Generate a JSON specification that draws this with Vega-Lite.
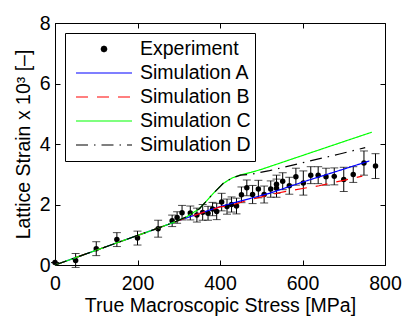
{
  "$schema": "https://vega.github.io/schema/vega-lite/v6.json",
  "width": 330,
  "height": 242,
  "autosize": {"type": "none"},
  "padding": {"left": 55, "top": 23, "right": 22, "bottom": 52},
  "config": {
    "font": "Liberation Sans",
    "view": {"stroke": "black", "strokeWidth": 1},
    "axis": {
      "domainColor": "black",
      "tickColor": "black",
      "tickSize": -5,
      "labelFlush": false,
      "labelColor": "black",
      "labelFontSize": 19.5,
      "labelFont": "Liberation Sans",
      "titleFont": "Liberation Sans",
      "titleFontSize": 19.5,
      "titleFontWeight": "normal",
      "titleColor": "black",
      "grid": false
    }
  },
  "datasets": {
    "exp": [
      {"x": 0, "y": 0.08, "lo": 0.08, "hi": 0.08},
      {"x": 50, "y": 0.15, "lo": -0.08, "hi": 0.38},
      {"x": 100, "y": 0.54, "lo": 0.31, "hi": 0.77},
      {"x": 150, "y": 0.84, "lo": 0.61, "hi": 1.07},
      {"x": 200, "y": 0.89, "lo": 0.66, "hi": 1.12},
      {"x": 250, "y": 1.2, "lo": 0.92, "hi": 1.48},
      {"x": 284, "y": 1.46, "lo": 1.27, "hi": 1.65},
      {"x": 296, "y": 1.57, "lo": 1.38, "hi": 1.76},
      {"x": 308, "y": 1.73, "lo": 1.49, "hi": 1.97},
      {"x": 328, "y": 1.72, "lo": 1.49, "hi": 1.95},
      {"x": 344, "y": 1.65, "lo": 1.42, "hi": 1.88},
      {"x": 358, "y": 1.74, "lo": 1.48, "hi": 2.0},
      {"x": 371, "y": 1.71, "lo": 1.48, "hi": 1.94},
      {"x": 382, "y": 1.85, "lo": 1.63, "hi": 2.07},
      {"x": 392, "y": 1.77, "lo": 1.5, "hi": 2.04},
      {"x": 404, "y": 2.08, "lo": 1.79, "hi": 2.37},
      {"x": 417, "y": 1.93, "lo": 1.68, "hi": 2.18},
      {"x": 428, "y": 2.0, "lo": 1.75, "hi": 2.25},
      {"x": 440, "y": 1.95, "lo": 1.69, "hi": 2.21},
      {"x": 452, "y": 2.32, "lo": 2.06, "hi": 2.58},
      {"x": 465, "y": 2.55, "lo": 2.29, "hi": 2.81},
      {"x": 479, "y": 2.33, "lo": 2.03, "hi": 2.63},
      {"x": 493, "y": 2.51, "lo": 2.22, "hi": 2.8},
      {"x": 507, "y": 2.33, "lo": 2.05, "hi": 2.61},
      {"x": 523, "y": 2.51, "lo": 2.24, "hi": 2.78},
      {"x": 537, "y": 2.67, "lo": 2.37, "hi": 2.97},
      {"x": 537, "y": 2.54, "lo": 2.24, "hi": 2.84},
      {"x": 552, "y": 2.77, "lo": 2.49, "hi": 3.05},
      {"x": 568, "y": 2.62, "lo": 2.34, "hi": 2.9},
      {"x": 584, "y": 2.92, "lo": 2.64, "hi": 3.2},
      {"x": 602, "y": 2.71, "lo": 2.31, "hi": 3.11},
      {"x": 620, "y": 2.97, "lo": 2.69, "hi": 3.25},
      {"x": 638, "y": 2.97, "lo": 2.69, "hi": 3.25},
      {"x": 657, "y": 2.92, "lo": 2.64, "hi": 3.2},
      {"x": 677, "y": 2.93, "lo": 2.65, "hi": 3.21},
      {"x": 700, "y": 2.83, "lo": 2.43, "hi": 3.23},
      {"x": 723, "y": 2.99, "lo": 2.73, "hi": 3.25},
      {"x": 749, "y": 3.37, "lo": 2.97, "hi": 3.77},
      {"x": 777, "y": 3.27, "lo": 2.86, "hi": 3.68}
    ],
    "sim": [
      {"series": "Simulation A", "x": 0, "y": 0},
      {"series": "Simulation A", "x": 250, "y": 1.22},
      {"series": "Simulation A", "x": 290, "y": 1.42},
      {"series": "Simulation A", "x": 300, "y": 1.47},
      {"series": "Simulation A", "x": 400, "y": 1.93},
      {"series": "Simulation A", "x": 424, "y": 2.02},
      {"series": "Simulation A", "x": 520, "y": 2.37},
      {"series": "Simulation A", "x": 600, "y": 2.74},
      {"series": "Simulation A", "x": 700, "y": 3.17},
      {"series": "Simulation A", "x": 762, "y": 3.44},
      {"series": "Simulation B", "x": 0, "y": 0},
      {"series": "Simulation B", "x": 250, "y": 1.22},
      {"series": "Simulation B", "x": 290, "y": 1.42},
      {"series": "Simulation B", "x": 300, "y": 1.47},
      {"series": "Simulation B", "x": 400, "y": 1.92},
      {"series": "Simulation B", "x": 424, "y": 1.96},
      {"series": "Simulation B", "x": 470, "y": 2.15},
      {"series": "Simulation B", "x": 540, "y": 2.38},
      {"series": "Simulation B", "x": 600, "y": 2.53},
      {"series": "Simulation B", "x": 640, "y": 2.62},
      {"series": "Simulation B", "x": 700, "y": 2.8},
      {"series": "Simulation B", "x": 745, "y": 2.94},
      {"series": "Simulation C", "x": 0, "y": 0},
      {"series": "Simulation C", "x": 250, "y": 1.22},
      {"series": "Simulation C", "x": 290, "y": 1.42},
      {"series": "Simulation C", "x": 320, "y": 1.6},
      {"series": "Simulation C", "x": 350, "y": 1.86},
      {"series": "Simulation C", "x": 384, "y": 2.37},
      {"series": "Simulation C", "x": 408, "y": 2.7},
      {"series": "Simulation C", "x": 430, "y": 2.88},
      {"series": "Simulation C", "x": 450, "y": 2.98},
      {"series": "Simulation C", "x": 475, "y": 3.06},
      {"series": "Simulation C", "x": 500, "y": 3.16},
      {"series": "Simulation C", "x": 600, "y": 3.62},
      {"series": "Simulation C", "x": 700, "y": 4.08},
      {"series": "Simulation C", "x": 768, "y": 4.39},
      {"series": "Simulation D", "x": 0, "y": 0},
      {"series": "Simulation D", "x": 250, "y": 1.22},
      {"series": "Simulation D", "x": 290, "y": 1.42},
      {"series": "Simulation D", "x": 320, "y": 1.6},
      {"series": "Simulation D", "x": 350, "y": 1.86},
      {"series": "Simulation D", "x": 384, "y": 2.37},
      {"series": "Simulation D", "x": 408, "y": 2.7},
      {"series": "Simulation D", "x": 430, "y": 2.88},
      {"series": "Simulation D", "x": 450, "y": 2.97},
      {"series": "Simulation D", "x": 475, "y": 3.0},
      {"series": "Simulation D", "x": 520, "y": 3.12},
      {"series": "Simulation D", "x": 600, "y": 3.38},
      {"series": "Simulation D", "x": 690, "y": 3.67},
      {"series": "Simulation D", "x": 752, "y": 3.88}
    ]
  },
  "layer": [
    {
      "layer": [
        {
          "data": {"name": "exp"},
          "mark": {"type": "rule", "color": "black", "strokeWidth": 1},
          "encoding": {
            "x": {"field": "x", "type": "quantitative", "scale": {"domain": [0, 800], "nice": false, "padding": 0}, "axis": {"values": [0, 200, 400, 600, 800], "title": "True Macroscopic Stress [MPa]", "labelPadding": 14, "titlePadding": 4}},
            "y": {"field": "lo", "type": "quantitative", "scale": {"domain": [0, 8], "nice": false, "padding": 0}, "axis": {"values": [0, 2, 4, 6, 8], "title": "Lattice Strain x 10³ [–]", "labelPadding": 10, "titlePadding": 6}},
            "y2": {"field": "hi"}
          }
        },
        {
          "data": {"name": "exp"},
          "mark": {"type": "tick", "orient": "horizontal", "color": "black", "size": 8, "thickness": 1},
          "encoding": {
            "x": {"field": "x", "type": "quantitative"},
            "y": {"field": "lo", "type": "quantitative"}
          }
        },
        {
          "data": {"name": "exp"},
          "mark": {"type": "tick", "orient": "horizontal", "color": "black", "size": 8, "thickness": 1},
          "encoding": {
            "x": {"field": "x", "type": "quantitative"},
            "y": {"field": "hi", "type": "quantitative"}
          }
        },
        {
          "data": {"name": "exp"},
          "mark": {"type": "point", "filled": true, "color": "black", "size": 30, "opacity": 1},
          "encoding": {
            "x": {"field": "x", "type": "quantitative"},
            "y": {"field": "y", "type": "quantitative"}
          }
        },
        {
          "data": {"name": "sim"},
          "mark": {"type": "line", "strokeWidth": 1.2},
          "encoding": {
            "x": {"field": "x", "type": "quantitative"},
            "y": {"field": "y", "type": "quantitative"},
            "color": {
              "field": "series",
              "type": "nominal",
              "scale": {
                "domain": ["Experiment", "Simulation A", "Simulation B", "Simulation C", "Simulation D"],
                "range": ["#000000", "#0000ff", "#ff0000", "#00ff00", "#000000"]
              },
              "legend": {
                "title": null,
                "orient": "none",
                "legendX": 10,
                "legendY": 10,
                "strokeColor": "black",
                "fillColor": "white",
                "padding": 4,
                "clipHeight": 24,
                "rowPadding": 0,
                "symbolSize": 3136,
                "symbolType": "stroke",
                "symbolStrokeWidth": 1.2,
                "symbolOffset": 6,
                "labelOffset": 7,
                "labelFontSize": 19.5,
                "labelFont": "Liberation Sans",
                "labelColor": "black",
                "labelLimit": 300,
                "labelExpr": "datum.label + '  '",
                "encoding": {
                  "symbols": {
                    "shape": {"condition": {"test": "datum.value === 'Experiment'", "value": "M 0.1 0 L 0.0707 0.0707 L 0 0.1 L -0.0707 0.0707 L -0.1 0 L -0.0707 -0.0707 L 0 -0.1 L 0.0707 -0.0707 Z"}, "value": "stroke"},
                    "fill": {"condition": {"test": "datum.value === 'Experiment'", "value": "black"}, "value": "transparent"},
                    "stroke": {"condition": [{"test": "datum.value === 'Simulation A'", "value": "#0000ff"}, {"test": "datum.value === 'Simulation B'", "value": "#ff0000"}, {"test": "datum.value === 'Simulation C'", "value": "#00ff00"}], "value": "#000000"},
                    "strokeDash": {"condition": [{"test": "datum.value === 'Simulation B'", "value": [12, 9]}, {"test": "datum.value === 'Simulation D'", "value": [1.5, 6, 12, 6]}], "value": [1, 0]}
                  }
                }
              }
            },
            "strokeDash": {
              "field": "series",
              "type": "nominal",
              "scale": {
                "domain": ["Experiment", "Simulation A", "Simulation B", "Simulation C", "Simulation D"],
                "range": [[1, 0], [1, 0], [12, 9], [1, 0], [12, 6, 1.5, 6]]
              },
              "legend": null
            }
          }
        }
      ]
    },
    {
      "data": {"name": "exp"},
      "mark": {"type": "point", "opacity": 0},
      "encoding": {
        "x": {"field": "x", "type": "quantitative", "axis": {"orient": "top", "values": [0, 200, 400, 600, 800], "labels": false, "title": null, "domain": false}},
        "y": {"field": "y", "type": "quantitative", "axis": {"orient": "right", "values": [0, 2, 4, 6, 8], "labels": false, "title": null, "domain": false}}
      }
    }
  ],
  "resolve": {"axis": {"x": "independent", "y": "independent"}}
}
